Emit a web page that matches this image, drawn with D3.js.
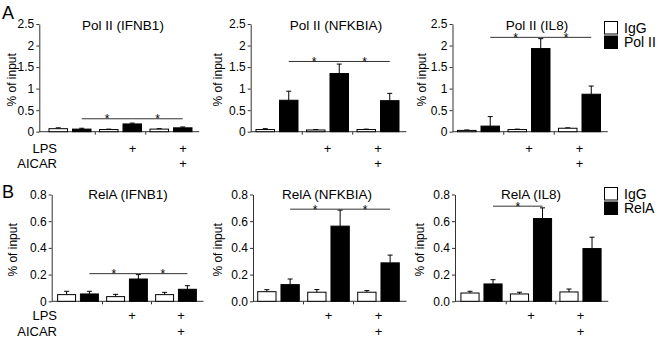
<!DOCTYPE html>
<html>
<head>
<meta charset="utf-8">
<script src="https://cdn.jsdelivr.net/npm/d3@7/dist/d3.min.js"></script>
<style>
  body { margin: 0; background: #fff; }
  text { font-family: "Liberation Sans", Arial, sans-serif; fill: #000; }
</style>
</head>
<body>
<svg id="chart" width="660" height="338"></svg>
<script>
// conditions: control, LPS, LPS + AICAR
var groups = ['ctrl', 'lps', 'lpsAicar'];
var lpsMarks = ['', '+', '+'];
var aicarMarks = ['', '', '+'];

var polTicks = [0, 0.5, 1, 1.5, 2, 2.5];
var polTickLabels = ['0', '0.5', '1', '1.5', '2', '2.5'];
var relaTicks = [0, 0.2, 0.4, 0.6, 0.8];
var relaTickLabels = ['0', '0.2', '0.4', '0.6', '0.8'];
var relaTickLabelsDec = ['0.0', '0.2', '0.4', '0.6', '0.8'];

// Pol II ChIP (% of input)
var iggPolIfnb1 = [0.07, 0.05, 0.06],   iggPolIfnb1Err = [0.02, 0.01, 0.01];
var polIfnb1 = [0.06, 0.18, 0.09],      polIfnb1Err = [0.02, 0.02, 0.02];
var iggPolNfkbia = [0.05, 0.04, 0.05],  iggPolNfkbiaErr = [0.02, 0.01, 0.01];
var polNfkbia = [0.73, 1.35, 0.72],     polNfkbiaErr = [0.21, 0.22, 0.17];
var iggPolIl8 = [0.03, 0.05, 0.08],     iggPolIl8Err = [0.01, 0.01, 0.01];
var polIl8 = [0.13, 1.93, 0.87],        polIl8Err = [0.22, 0.23, 0.19];

// RelA ChIP (% of input)
var iggRelaIfnb1 = [0.05, 0.035, 0.05],   iggRelaIfnb1Err = [0.025, 0.017, 0.017];
var relaIfnb1 = [0.055, 0.167, 0.09],     relaIfnb1Err = [0.02, 0.033, 0.027];
var iggRelaNfkbia = [0.072, 0.068, 0.068], iggRelaNfkbiaErr = [0.015, 0.02, 0.012];
var relaNfkbia = [0.125, 0.563, 0.288],   relaNfkbiaErr = [0.042, 0.12, 0.058];
var iggRelaIl8 = [0.062, 0.055, 0.07],    iggRelaIl8Err = [0.013, 0.013, 0.022];
var relaIl8 = [0.13, 0.62, 0.395],        relaIl8Err = [0.032, 0.08, 0.085];

// significance brackets: [from group, to group] between antibody bars
var sigPolIfnb1 = [[0, 1], [1, 2]], sigPolIfnb1Y = 0.30;
var sigPolNfkbia = [[0, 1], [1, 2]], sigPolNfkbiaY = 1.63;
var sigPolIl8 = [[0, 1], [1, 2]], sigPolIl8Y = 2.19;
var sigRelaIfnb1 = [[0, 1], [1, 2]], sigRelaIfnb1Y = 0.207;
var sigRelaNfkbia = [[0, 1], [1, 2]], sigRelaNfkbiaY = 0.69;
var sigRelaIl8 = [[0, 1]], sigRelaIl8Y = 0.7125;

var rows = [
  { letter: 'A', letterY: 19, y0: 131.7, yTop: 24, titleY: 30, lpsY: 152.5, aicarY: 168, max: 2.5,
    ticks: polTicks, legend: ['IgG', 'Pol II'], legendY: 21 },
  { letter: 'B', letterY: 198, y0: 301.3, yTop: 194.5, titleY: 199, lpsY: 319.5, aicarY: 335.5, max: 0.8,
    ticks: relaTicks, legend: ['IgG', 'RelA'], legendY: 187 }
];

var panels = [
  { row: 0, title: 'Pol II (IFNB1)', titleX: 123, axisX: 39.3, labelX: 12, groupX: 44.75, step: 50.5, plusShift: 12,
    tickLabels: polTickLabels, igg: iggPolIfnb1, iggErr: iggPolIfnb1Err, ab: polIfnb1, abErr: polIfnb1Err,
    sig: sigPolIfnb1, sigY: sigPolIfnb1Y, conditions: true },
  { row: 0, title: 'Pol II (NFKBIA)', titleX: 336, axisX: 250.7, labelX: 218, groupX: 251.75, step: 50.5, plusShift: 0,
    tickLabels: polTickLabels, igg: iggPolNfkbia, iggErr: iggPolNfkbiaErr, ab: polNfkbia, abErr: polNfkbiaErr,
    sig: sigPolNfkbia, sigY: sigPolNfkbiaY },
  { row: 0, title: 'Pol II (IL8)', titleX: 537, axisX: 452.5, labelX: 422, groupX: 453.25, step: 50.5, plusShift: 0,
    tickLabels: polTickLabels, igg: iggPolIl8, iggErr: iggPolIl8Err, ab: polIl8, abErr: polIl8Err,
    sig: sigPolIl8, sigY: sigPolIl8Y, legend: true },
  { row: 1, title: 'RelA (IFNB1)', titleX: 128, axisX: 51.7, labelX: 13, groupX: 53.5, step: 49, plusShift: 5,
    tickLabels: relaTickLabels, igg: iggRelaIfnb1, iggErr: iggRelaIfnb1Err, ab: relaIfnb1, abErr: relaIfnb1Err,
    sig: sigRelaIfnb1, sigY: sigRelaIfnb1Y, conditions: true },
  { row: 1, title: 'RelA (NFKBIA)', titleX: 327, axisX: 253, labelX: 218, groupX: 253.5, step: 50, plusShift: 0,
    tickLabels: relaTickLabelsDec, igg: iggRelaNfkbia, iggErr: iggRelaNfkbiaErr, ab: relaNfkbia, abErr: relaNfkbiaErr,
    sig: sigRelaNfkbia, sigY: sigRelaNfkbiaY },
  { row: 1, title: 'RelA (IL8)', titleX: 531, axisX: 455, labelX: 420, groupX: 456.75, step: 49.5, plusShift: 0,
    tickLabels: relaTickLabelsDec, igg: iggRelaIl8, iggErr: iggRelaIl8Err, ab: relaIl8, abErr: relaIl8Err,
    sig: sigRelaIl8, sigY: sigRelaIl8Y, legend: true }
];

var svg = d3.select('#chart');

rows.forEach(function(r) {
  svg.append('text')
    .attr('x', 2)
    .attr('y', r.letterY)
    .style('font-size', '18px')
    .text(r.letter);
});

panels.forEach(function(p) {
  var r = rows[p.row];
  var g = svg.append('g');

  var y = d3.scaleLinear().domain([0, r.max]).range([r.y0, r.yTop]);
  var x0 = d3.scaleBand().domain(groups)
    .range([p.groupX, p.groupX + 3 * p.step])
    .paddingInner(0).paddingOuter(0);
  var x1 = d3.scaleBand().domain(['igg', 'ab'])
    .range([0, x0.bandwidth()])
    .paddingInner(0.213).paddingOuter(0.181);

  // y axis
  var yAxis = d3.axisLeft(y)
    .tickValues(r.ticks)
    .tickFormat(function(d, i) { return p.tickLabels[i]; })
    .tickSize(3)
    .tickSizeOuter(0)
    .tickPadding(2);

  g.append('g')
    .attr('transform', 'translate(' + p.axisX + ',0)')
    .call(yAxis)
    .call(function(a) {
      a.selectAll('text').style('font-size', '12px').attr('fill', '#000')
        .style('font-family', '"Liberation Sans", Arial, sans-serif');
      a.selectAll('line, path').attr('stroke', '#333');
    });

  // x axis line with ticks between groups
  var xEnd = p.groupX + 3 * p.step + 3;
  g.append('line')
    .attr('x1', p.axisX).attr('x2', xEnd)
    .attr('y1', r.y0).attr('y2', r.y0)
    .attr('stroke', '#333');
  g.selectAll('.gtick')
    .data(groups.slice(1))
    .enter().append('line')
    .attr('x1', function(d) { return x0(d); })
    .attr('x2', function(d) { return x0(d); })
    .attr('y1', r.y0).attr('y2', r.y0 + 3)
    .attr('stroke', '#333');

  // y label
  g.append('text')
    .attr('transform', 'translate(' + p.labelX + ',' + ((r.y0 + r.yTop) / 2 + 2) + ') rotate(-90)')
    .attr('text-anchor', 'middle')
    .attr('dy', '0.35em')
    .style('font-size', '12px')
    .text('% of input');

  // title
  g.append('text')
    .attr('x', p.titleX)
    .attr('y', r.titleY)
    .attr('text-anchor', 'middle')
    .style('font-size', '13.5px')
    .text(p.title);

  // bars
  var series = [
    { key: 'igg', values: p.igg, errs: p.iggErr, fill: '#fff' },
    { key: 'ab', values: p.ab, errs: p.abErr, fill: '#000' }
  ];

  series.forEach(function(s) {
    var barData = groups.map(function(gr, i) {
      return { group: gr, value: s.values[i], err: s.errs[i] };
    });
    var cx = function(d) { return x0(d.group) + x1(s.key) + x1.bandwidth() / 2; };

    g.selectAll('.err-' + s.key)
      .data(barData)
      .enter().append('line')
      .attr('x1', cx).attr('x2', cx)
      .attr('y1', function(d) { return y(d.value); })
      .attr('y2', function(d) { return y(d.value + d.err); })
      .attr('stroke', '#000');
    g.selectAll('.cap-' + s.key)
      .data(barData)
      .enter().append('line')
      .attr('x1', function(d) { return cx(d) - 2.5; })
      .attr('x2', function(d) { return cx(d) + 2.5; })
      .attr('y1', function(d) { return y(d.value + d.err); })
      .attr('y2', function(d) { return y(d.value + d.err); })
      .attr('stroke', '#000');

    g.selectAll('.bar-' + s.key)
      .data(barData)
      .enter().append('rect')
      .attr('x', function(d) { return x0(d.group) + x1(s.key); })
      .attr('width', x1.bandwidth())
      .attr('y', function(d) { return y(d.value); })
      .attr('height', function(d) { return r.y0 - y(d.value); })
      .attr('fill', s.fill)
      .attr('stroke', '#000')
      .attr('stroke-width', 1);
  });

  // significance brackets
  var abX = function(i) { return x0(groups[i]) + x1('ab') + x1.bandwidth() / 2; };
  p.sig.forEach(function(pair) {
    var xa = abX(pair[0]), xb = abX(pair[1]);
    g.append('line')
      .attr('x1', xa).attr('x2', xb)
      .attr('y1', y(p.sigY)).attr('y2', y(p.sigY))
      .attr('stroke', '#333');
    g.append('text')
      .attr('x', (xa + xb) / 2)
      .attr('y', y(p.sigY) + 4.5)
      .attr('text-anchor', 'middle')
      .style('font-size', '12px')
      .text('*');
  });

  // treatment marks
  var plusX = function(i) { return x0(groups[i]) + x0.bandwidth() / 2 + p.plusShift; };
  [[lpsMarks, r.lpsY], [aicarMarks, r.aicarY]].forEach(function(m) {
    g.selectAll(null)
      .data(m[0])
      .enter().append('text')
      .attr('x', function(d, i) { return plusX(i); })
      .attr('y', m[1])
      .attr('text-anchor', 'middle')
      .style('font-size', '13px')
      .text(function(d) { return d; });
  });

  if (p.conditions) {
    g.append('text').attr('x', 57).attr('y', r.lpsY)
      .attr('text-anchor', 'end').style('font-size', '13px').text('LPS');
    g.append('text').attr('x', 57).attr('y', r.aicarY)
      .attr('text-anchor', 'end').style('font-size', '13px').text('AICAR');
  }

  if (p.legend) {
    var lg = g.selectAll('.legend')
      .data(r.legend)
      .enter().append('g')
      .attr('transform', function(d, i) { return 'translate(604,' + (r.legendY + i * 14.5) + ')'; });
    lg.append('rect')
      .attr('x', 0.5).attr('y', 0.5)
      .attr('width', 13).attr('height', 12.5)
      .attr('fill', function(d, i) { return i === 0 ? '#fff' : '#000'; })
      .attr('stroke', '#000');
    lg.append('text')
      .attr('x', 20).attr('y', 11.5)
      .style('font-size', '14px')
      .text(function(d) { return d; });
  }
});
</script>
</body>
</html>
